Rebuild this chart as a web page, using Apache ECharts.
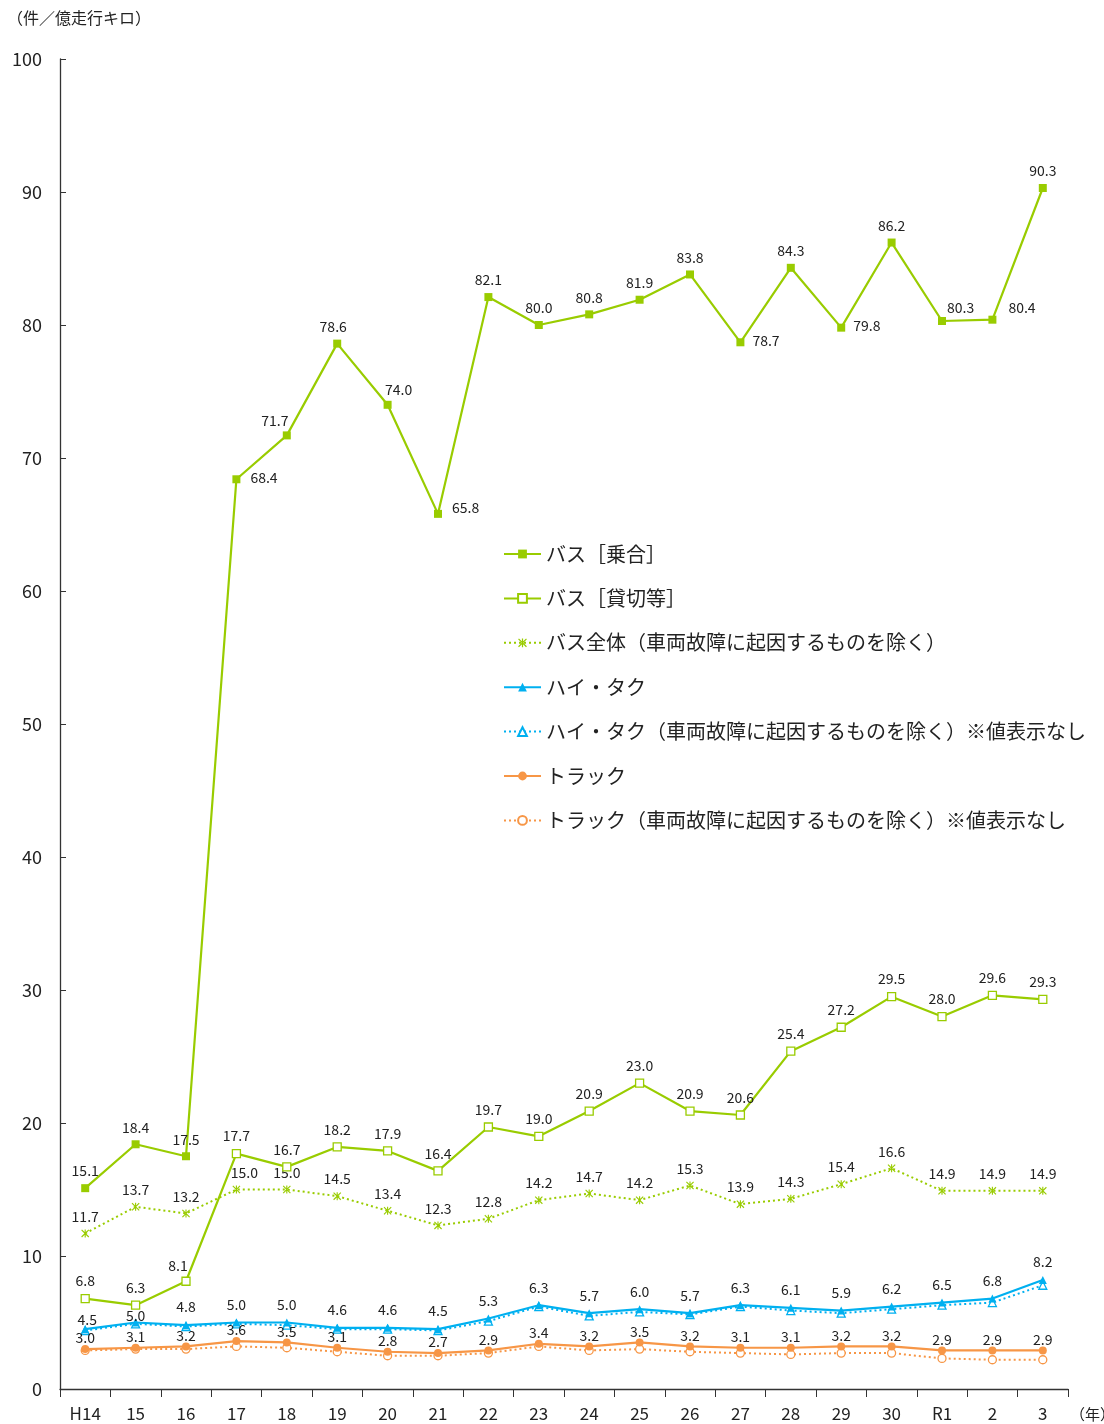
<!DOCTYPE html>
<html>
<head>
<meta charset="utf-8">
<script src="https://cdn.jsdelivr.net/npm/echarts@6/dist/echarts.min.js"></script>
<style>
  html, body { margin: 0; padding: 0; background: #fff; }
  #chart { width: 1104px; height: 1424px; }
</style>
</head>
<body>
<div id="chart"></div>
<script>
// 事業用自動車の事故件数（件／億走行キロ）
const years = ['H14','15','16','17','18','19','20','21','22','23','24','25','26','27','28','29','30','R1','2','3'];

const busRoute   = [15.1,18.4,17.5,68.4,71.7,78.6,74.0,65.8,82.1,80.0,80.8,81.9,83.8,78.7,84.3,79.8,86.2,80.3,80.4,90.3];
const busCharter = [6.8,6.3,8.1,17.7,16.7,18.2,17.9,16.4,19.7,19.0,20.9,23.0,20.9,20.6,25.4,27.2,29.5,28.0,29.6,29.3];
const busAllExcl = [11.7,13.7,13.2,15.0,15.0,14.5,13.4,12.3,12.8,14.2,14.7,14.2,15.3,13.9,14.3,15.4,16.6,14.9,14.9,14.9];
const taxi       = [4.5,5.0,4.8,5.0,5.0,4.6,4.6,4.5,5.3,6.3,5.7,6.0,5.7,6.3,6.1,5.9,6.2,6.5,6.8,8.2];
const taxiExcl   = [4.4,4.9,4.7,4.9,4.8,4.5,4.5,4.4,5.1,6.2,5.5,5.8,5.6,6.2,5.9,5.7,6.0,6.3,6.5,7.8];
const truck      = [3.0,3.1,3.2,3.6,3.5,3.1,2.8,2.7,2.9,3.4,3.2,3.5,3.2,3.1,3.1,3.2,3.2,2.9,2.9,2.9];
const truckExcl  = [2.9,3.0,3.0,3.2,3.1,2.8,2.5,2.5,2.7,3.2,2.9,3.0,2.8,2.7,2.6,2.7,2.7,2.3,2.2,2.2];

const yTicks = { min: 0, max: 100, interval: 10 };

const GREEN = '#99CC00';
const BLUE = '#00B0F0';
const ORANGE = '#F79646';
const FONT = '"Noto Sans CJK JP", "Noto Sans", sans-serif';

const ASTERISK = 'path://M4.3,0L5.7,0L5.7,10L4.3,10Z M0,1L1,0L10,9L9,10Z M9,0L10,1L1,10L0,9Z';

const labelBase = {
  show: true, position: 'top', distance: 6,
  fontFamily: FONT, fontSize: 14, color: '#222',
  formatter: p => p.value.toFixed(1)
};

// per-point label placement tweaks, keyed by category index
function withLabels(values, tweaks) {
  return values.map((v, i) => tweaks && tweaks[i] ? { value: v, label: tweaks[i] } : v);
}

const routeTweaks = {
  3: { position: 'right', distance: 10, offset: [0, -2] },
  4: { offset: [-12, 2] },
  5: { offset: [-4, 0] },
  6: { offset: [11, 2] },
  7: { position: 'right', distance: 10, offset: [0, -6] },
  13: { position: 'right', distance: 8, offset: [0, -2] },
  15: { position: 'right', distance: 8, offset: [0, -2] },
  17: { position: 'right', distance: 1, offset: [0, -13] },
  18: { position: 'right', distance: 12, offset: [0, -12] }
};
const charterTweaks = {
  2: { offset: [-8, 2] }
};
const allExclTweaks = {
  3: { offset: [8, 0] }
};
const taxiTweaks = {
  0: { distance: -2, offset: [2, 0] },
  1: { distance: -4 }
};

const option = {
  backgroundColor: '#fff',
  animation: false,
  textStyle: { fontFamily: FONT },
  grid: { left: 60, right: 36, top: 59, bottom: 35, containLabel: false },
  graphic: [
    { type: 'text', left: 7, top: 10, style: { text: '（件／億走行キロ）', font: '16px ' + FONT, fill: '#222' } },
    { type: 'text', left: 1070, top: 1407, style: { text: '（年）', font: '15px ' + FONT, fill: '#222' } }
  ],
  legend: {
    orient: 'vertical', left: 498, top: 538,
    itemWidth: 37, itemHeight: 11, itemGap: 22.4,
    textStyle: { fontFamily: FONT, fontSize: 20, color: '#222', lineHeight: 22 },
    data: ['バス［乗合］','バス［貸切等］','バス全体（車両故障に起因するものを除く）','ハイ・タク','ハイ・タク（車両故障に起因するものを除く）※値表示なし','トラック','トラック（車両故障に起因するものを除く）※値表示なし']
  },
  xAxis: {
    type: 'category', data: years, boundaryGap: true,
    axisLine: { lineStyle: { color: '#333', width: 1.3 } },
    axisTick: { show: true, inside: false, length: 8, interval: 0, lineStyle: { color: '#333' } },
    axisLabel: { fontFamily: FONT, fontSize: 17, color: '#222', margin: 16, interval: 0 }
  },
  yAxis: {
    type: 'value', min: yTicks.min, max: yTicks.max, interval: yTicks.interval,
    splitLine: { show: false },
    axisLine: { show: true, lineStyle: { color: '#333', width: 1.3 } },
    axisTick: { show: true, inside: true, length: 6, lineStyle: { color: '#333' } },
    axisLabel: { fontFamily: FONT, fontSize: 18, color: '#222', margin: 18 }
  },
  series: [
    {
      name: 'バス［乗合］', type: 'line', data: withLabels(busRoute, routeTweaks),
      symbol: 'rect', symbolSize: 8, z: 5,
      lineStyle: { color: GREEN, width: 2.2 }, itemStyle: { color: GREEN },
      label: labelBase
    },
    {
      name: 'バス［貸切等］', type: 'line', data: withLabels(busCharter, charterTweaks),
      symbol: 'rect', symbolSize: 8, z: 5,
      lineStyle: { color: GREEN, width: 2.2 },
      itemStyle: { color: '#fff', borderColor: GREEN, borderWidth: 1.3 },
      label: labelBase
    },
    {
      name: 'バス全体（車両故障に起因するものを除く）', type: 'line', data: withLabels(busAllExcl, allExclTweaks),
      symbol: ASTERISK, symbolSize: 8, z: 4,
      lineStyle: { color: GREEN, width: 2, type: [2, 3] }, itemStyle: { color: GREEN },
      label: labelBase
    },
    {
      name: 'ハイ・タク', type: 'line', data: withLabels(taxi, taxiTweaks),
      symbol: 'triangle', symbolSize: 8, z: 5,
      lineStyle: { color: BLUE, width: 2.2 }, itemStyle: { color: BLUE },
      label: Object.assign({}, labelBase, { distance: 7 })
    },
    {
      name: 'ハイ・タク（車両故障に起因するものを除く）※値表示なし', type: 'line', data: taxiExcl,
      symbol: 'triangle', symbolSize: 8, z: 4,
      lineStyle: { color: BLUE, width: 2, type: [2, 3] },
      itemStyle: { color: '#fff', borderColor: BLUE, borderWidth: 1.3 },
      label: { show: false }
    },
    {
      name: 'トラック', type: 'line', data: truck,
      symbol: 'circle', symbolSize: 8, z: 5,
      lineStyle: { color: ORANGE, width: 2.2 }, itemStyle: { color: ORANGE },
      label: Object.assign({}, labelBase, { distance: 0 })
    },
    {
      name: 'トラック（車両故障に起因するものを除く）※値表示なし', type: 'line', data: truckExcl,
      symbol: 'circle', symbolSize: 8, z: 4,
      lineStyle: { color: ORANGE, width: 2, type: [2, 3] },
      itemStyle: { color: '#fff', borderColor: ORANGE, borderWidth: 1.3 },
      label: { show: false }
    }
  ]
};

const chart = echarts.init(document.getElementById('chart'), null, { renderer: 'canvas' });
chart.setOption(option);
</script>
</body>
</html>
